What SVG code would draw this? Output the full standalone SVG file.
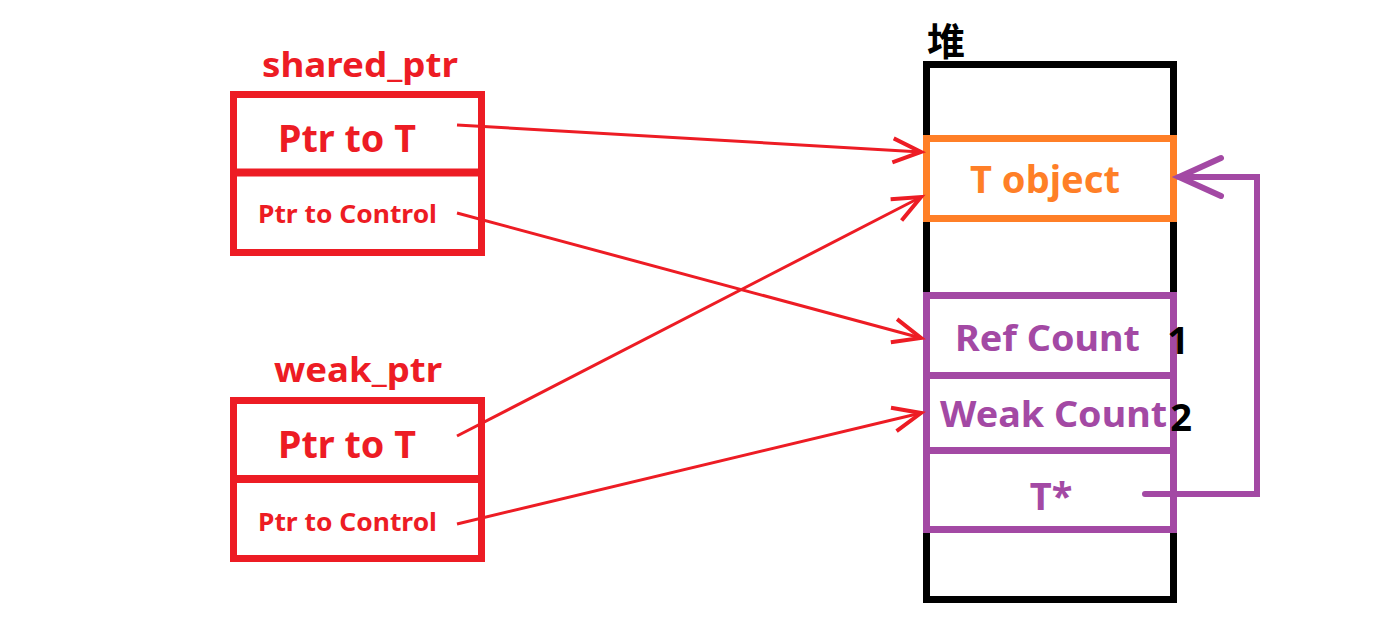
<svg xmlns="http://www.w3.org/2000/svg" width="1382" height="630" viewBox="0 0 1382 630">
<style>
.t{font-family:"Noto Sans","Open Sans","Liberation Sans",sans-serif;font-weight:bold;text-anchor:middle}
.red{fill:#ED1C24}
.pur{fill:#A349A4}
.org{fill:#FF7F27}
.blk{fill:#000}
.rbox{fill:none;stroke:#ED1C24;stroke-width:7}
.pbox{fill:#fff;stroke:#A349A4;stroke-width:7}
.conn{fill:none;stroke:#ED1C24;stroke-width:3}
</style>
<defs>
<marker id="ah" markerUnits="userSpaceOnUse" markerWidth="40" markerHeight="40" refX="30" refY="15" orient="auto">
<path d="M2,3 L30,15 L2,27" fill="none" stroke="#ED1C24" stroke-width="4" stroke-linejoin="miter"/>
</marker>
</defs>
<rect width="1382" height="630" fill="#fff"/>

<g id="shared_ptr">
<text class="t red" x="360" y="77" font-size="34" textLength="196" lengthAdjust="spacingAndGlyphs">shared_ptr</text>
<rect class="rbox" x="233.5" y="94.5" width="248" height="158"/>
<line x1="230" y1="172.5" x2="485" y2="172.5" stroke="#ED1C24" stroke-width="8"/>
<text class="t red" x="347" y="152" font-size="38" textLength="138" lengthAdjust="spacingAndGlyphs">Ptr to T</text>
<text class="t red" x="347.5" y="223" font-size="25" textLength="179" lengthAdjust="spacingAndGlyphs">Ptr to Control</text>
</g>

<g id="weak_ptr">
<text class="t red" x="358" y="382" font-size="34" textLength="168" lengthAdjust="spacingAndGlyphs">weak_ptr</text>
<rect class="rbox" x="233.5" y="400.5" width="248" height="158"/>
<line x1="230" y1="479" x2="485" y2="479" stroke="#ED1C24" stroke-width="8"/>
<text class="t red" x="347" y="458" font-size="38" textLength="138" lengthAdjust="spacingAndGlyphs">Ptr to T</text>
<text class="t red" x="347.5" y="531" font-size="25" textLength="179" lengthAdjust="spacingAndGlyphs">Ptr to Control</text>
</g>

<g id="heap">
<text x="927" y="55" font-family="'Noto Sans CJK SC',sans-serif" font-weight="bold" font-size="38" class="blk">堆</text>
<rect x="926.5" y="64.5" width="247" height="535" fill="none" stroke="#000" stroke-width="7"/>
</g>

<g id="t_object">
<rect x="926.5" y="138.5" width="247" height="80" fill="#fff" stroke="#FF7F27" stroke-width="7"/>
<text class="t org" x="1045" y="193" font-size="38" textLength="150" lengthAdjust="spacingAndGlyphs">T object</text>
</g>

<g id="control_block">
<rect class="pbox" x="926.5" y="295.5" width="247" height="234"/>
<line x1="923" y1="375.5" x2="1177" y2="375.5" stroke="#A349A4" stroke-width="7"/>
<line x1="923" y1="450.5" x2="1177" y2="450.5" stroke="#A349A4" stroke-width="7"/>
<text class="t pur" x="1047.5" y="351" font-size="35" textLength="185" lengthAdjust="spacingAndGlyphs">Ref Count</text>
<text class="t pur" x="1053.5" y="427" font-size="35" textLength="227" lengthAdjust="spacingAndGlyphs">Weak Count</text>
<text class="t pur" x="1051" y="510" font-size="38">T*</text>
<text class="t blk" x="1178" y="354" font-size="38">1</text>
<text class="t blk" x="1181" y="431" font-size="38">2</text>
</g>

<g id="connectors">
<line class="conn" x1="457" y1="125" x2="921" y2="152" marker-end="url(#ah)"/>
<line class="conn" x1="457" y1="213" x2="921" y2="338" marker-end="url(#ah)"/>
<line class="conn" x1="457" y1="436" x2="921" y2="197" marker-end="url(#ah)"/>
<line class="conn" x1="457" y1="524" x2="921" y2="413" marker-end="url(#ah)"/>
<polyline points="1145,494 1257,494 1257,177 1179,177" fill="none" stroke="#A349A4" stroke-width="6" stroke-linecap="round"/>
<polyline points="1221,158 1179,177 1221,196" fill="none" stroke="#A349A4" stroke-width="6" stroke-linecap="round"/>
</g>
</svg>
